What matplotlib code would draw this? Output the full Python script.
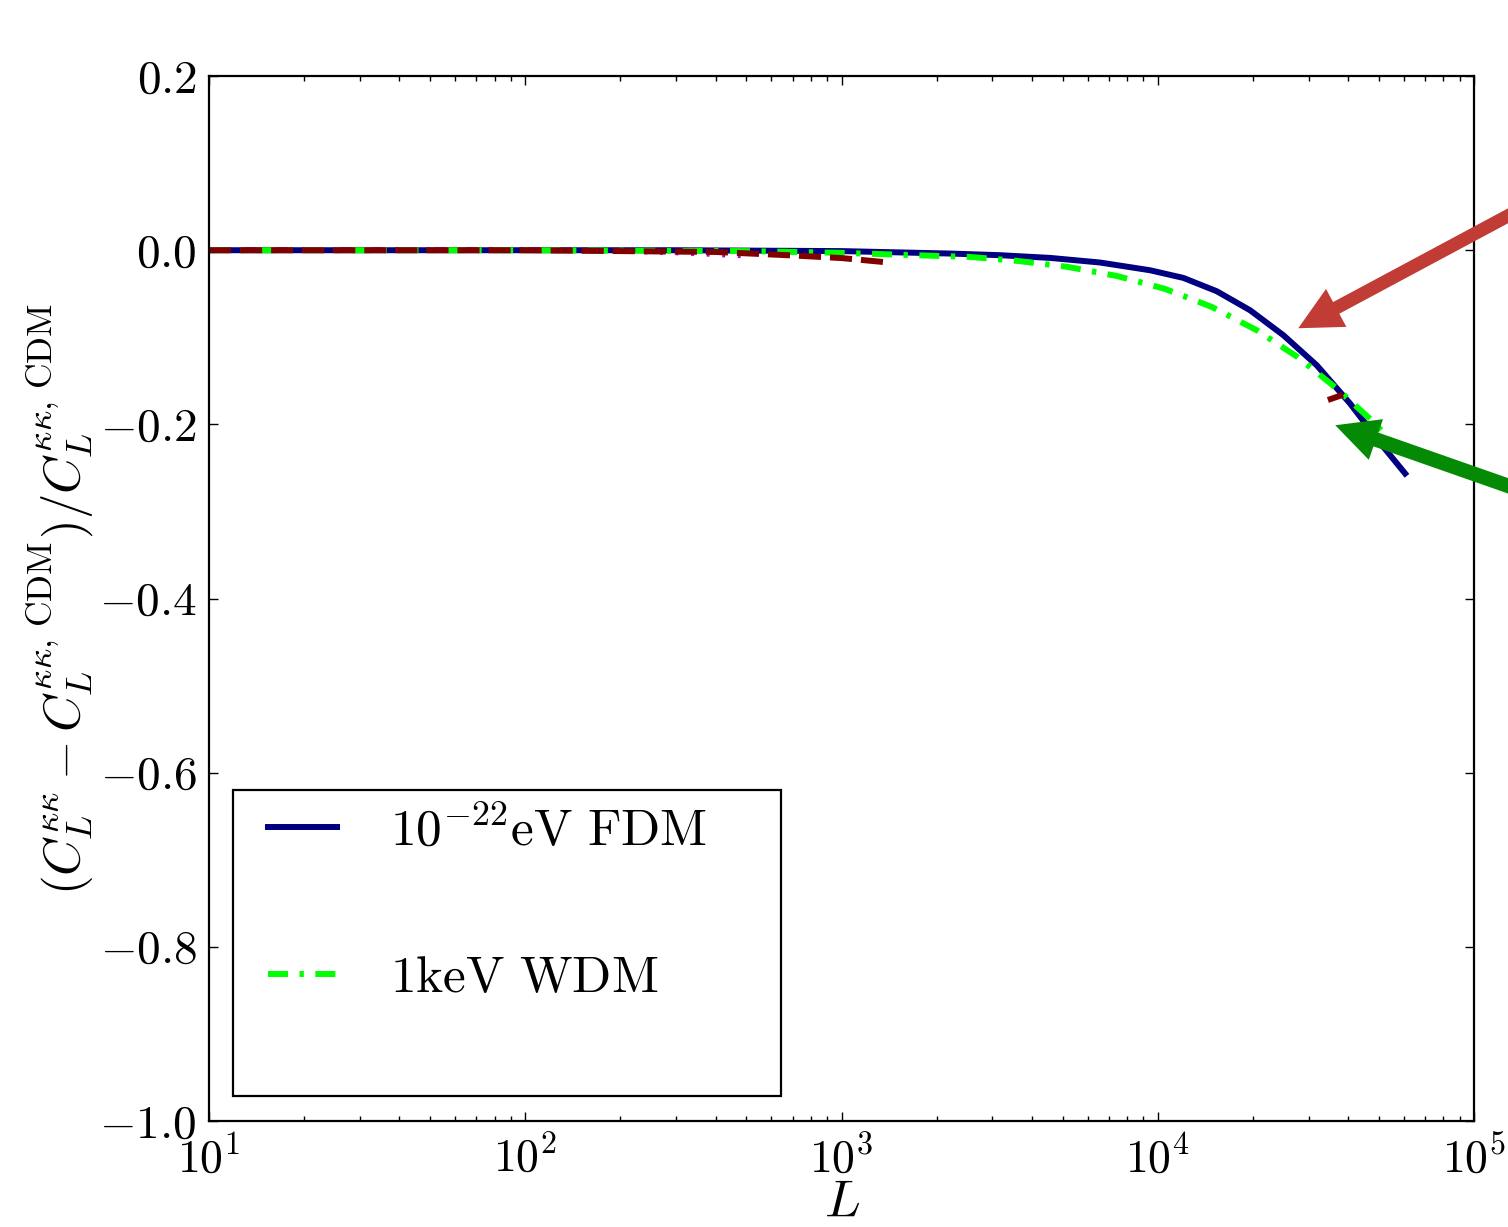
import numpy as np
import matplotlib
matplotlib.use("Agg")
import matplotlib.pyplot as plt
from matplotlib.ticker import FuncFormatter, LogLocator, MultipleLocator
from matplotlib.patches import Rectangle

plt.rcParams['font.family'] = 'serif'
plt.rcParams['font.serif'] = ['cmr10', 'DejaVu Serif']
plt.rcParams['mathtext.fontset'] = 'cm'
plt.rcParams['axes.formatter.use_mathtext'] = True

# 10^-22 eV FDM
L_fdm = [10, 100, 300, 1000, 2200, 3170, 4560, 6560, 9452, 12047, 15360, 19570, 24950,
         31810, 40550, 51670, 60530]
ratio_fdm = [0.0, 0.0, 0.0, -0.001, -0.0038, -0.0057, -0.0088, -0.0141, -0.0230, -0.0318,
             -0.0471, -0.0689, -0.0976, -0.1321, -0.1761, -0.2259, -0.2564]

# 1 keV WDM
L_wdm = [10, 100, 500, 1000, 2000, 2547, 3610, 5160, 7410, 10540, 14813, 20560, 27620,
         36800, 48040, 60050]
ratio_wdm = [0.0, 0.0, -0.001, -0.003, -0.0065, -0.0077, -0.0123, -0.019, -0.0295, -0.0444,
             -0.0651, -0.0919, -0.1225, -0.1588, -0.1972, -0.2354]

# other curves, mostly hidden
L_mag = [10, 100, 200, 300, 400, 525]
ratio_mag = [0.0, 0.0, -0.001, -0.003, -0.005, -0.007]

L_red = [10, 100, 400, 700, 1000, 1400, np.nan, 34500, 38500]
ratio_red = [0.0, 0.0, -0.002, -0.006, -0.009, -0.014, np.nan, -0.172, -0.166]

fig = plt.figure(figsize=(15.08, 12.27), dpi=100)
ax = fig.add_axes([0.1386, 0.0864, 0.8389, 0.8516])

l1, = ax.plot(L_fdm, ratio_fdm, color='#000080', lw=4.3, label=r'$10^{-22}\mathrm{eV\ FDM}$')
ax.plot(L_mag, ratio_mag, color='#bf00bf', lw=3.5, dashes=(0.6, 2.6))
l2, = ax.plot(L_wdm, ratio_wdm, color='#00ff00', lw=4.3, dashes=(3.35, 1.93, 0.72, 1.93),
              label=r'$\mathrm{1keV\ WDM}$')
ax.plot(L_red, ratio_red, color='#800000', lw=4.3, dashes=(3.7, 1.5))

ax.set_xscale('log')
ax.set_xlim(10, 1e5)
ax.set_ylim(-1.0, 0.2)
ax.yaxis.set_major_locator(MultipleLocator(0.2))
ax.yaxis.set_major_formatter(FuncFormatter(lambda v, p: r'$%.1f$' % v))
ax.xaxis.set_minor_locator(LogLocator(base=10, subs=np.arange(2, 10)))

ax.tick_params(which='both', direction='in', top=True, right=True)
ax.tick_params(which='major', length=6.5, width=1.0, pad=9)
ax.tick_params(which='minor', length=3.6, width=1.0)
ax.tick_params(axis='y', labelsize=34)
ax.tick_params(axis='x', labelsize=33, pad=10)
for s in ax.spines.values():
    s.set_linewidth(1.6)

ax.set_xlabel(r'$L$', fontsize=38, labelpad=-1)
ax.set_ylabel(r'$(C_L^{\kappa\kappa}-C_L^{\kappa\kappa,\,\mathrm{CDM}})/C_L^{\kappa\kappa,\,\mathrm{CDM}}$',
              fontsize=36.5, labelpad=2)

leg = ax.legend(handles=[l1, l2], loc='upper left', bbox_to_anchor=(0.0466, 0.3014),
                frameon=False, borderpad=0, borderaxespad=0, fontsize=37,
                handlelength=1.34, handletextpad=1.04, labelspacing=1.97)
ax.add_patch(Rectangle((0.019, 0.0239), 0.433, 0.2928, transform=ax.transAxes,
                       fill=False, edgecolor='black', lw=1.6, zorder=5))

ax.annotate('', xy=(2.78e4, -0.0896), xytext=(5.2e5, 0.158), xycoords='data',
            annotation_clip=False,
            arrowprops=dict(facecolor='#c03c35', edgecolor='none', width=9.5,
                            headwidth=31, headlength=31, shrink=0))
ax.annotate('', xy=(3.64e4, -0.201), xytext=(5.2e5, -0.348), xycoords='data',
            annotation_clip=False,
            arrowprops=dict(facecolor='#058a05', edgecolor='none', width=10.5,
                            headwidth=31, headlength=31, shrink=0))

fig.savefig('out.png', dpi=100)
